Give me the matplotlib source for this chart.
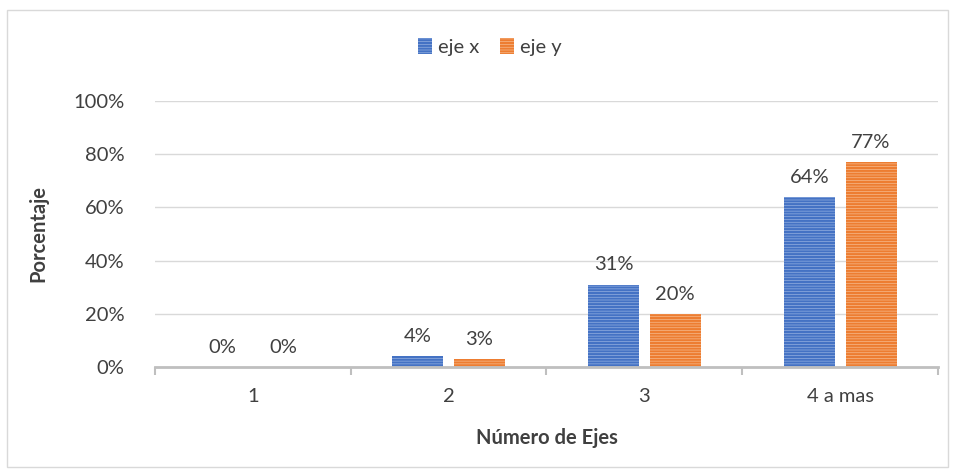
import matplotlib.pyplot as plt
import matplotlib.patches as mpatches
import numpy as np

# data
categories = ['1', '2', '3', '4 a mas']
eje_x = [0, 4, 31, 64]
eje_y = [0, 3, 20, 77]
series_names = ['eje x', 'eje y']

plt.rcParams['font.family'] = ['Lato', 'DejaVu Sans']
plt.rcParams['hatch.linewidth'] = 1.6

fig = plt.figure(figsize=(9.55, 4.72), dpi=100)
ax = fig.add_axes([0.1623, 0.2225, 0.8199, 0.5635])

# outer chart border
fig.patches.append(mpatches.Rectangle((7 / 955, 1 - 467 / 472), 941 / 955, 457 / 472,
                                      transform=fig.transFigure, fill=False,
                                      edgecolor='#d9d9d9', linewidth=1))

x = np.arange(len(categories))
w = 0.26
off = 0.158
text_col = '#404040'
fs = 14.5

b1 = ax.bar(x - off, np.array(eje_x) / 100, w, facecolor='#a8bfe8', edgecolor='#4472C4',
            hatch='------', linewidth=0, label=series_names[0])
b2 = ax.bar(x + off, np.array(eje_y) / 100, w, facecolor='#f8c9a3', edgecolor='#ED7D31',
            hatch='------', linewidth=0, label=series_names[1])

for bars, vals in ((b1, eje_x), (b2, eje_y)):
    for r, v in zip(bars, vals):
        ax.annotate(f'{v}%', (r.get_x() + r.get_width() / 2, r.get_height()),
                    xytext=(0, 8), textcoords='offset points', ha='center', va='bottom',
                    fontsize=fs, color=text_col)

ax.set_xlim(-0.5, len(categories) - 0.5)
ax.set_ylim(0, 1)
ax.set_yticks(np.arange(0, 1.01, 0.2))
ax.set_yticklabels([f'{int(round(t * 100))}%' for t in np.arange(0, 1.01, 0.2)])
ax.set_xticks(x)
ax.set_xticklabels(categories)
ax.set_xticks(np.arange(-0.5, len(categories), 1), minor=True)
ax.tick_params(axis='x', which='major', length=0, pad=15, labelsize=fs, labelcolor=text_col)
ax.tick_params(axis='x', which='minor', length=6, width=1.5, color='#bfbfbf', direction='out')
ax.tick_params(axis='y', length=0, pad=22, labelsize=fs, labelcolor=text_col)

ax.grid(axis='y', color='#d9d9d9', linewidth=1)
ax.set_axisbelow(True)
for s in ('top', 'right', 'left'):
    ax.spines[s].set_visible(False)
ax.spines['bottom'].set_color('#bfbfbf')
ax.spines['bottom'].set_linewidth(2)

ax.set_ylabel('Porcentaje', fontsize=fs, fontweight='bold', color=text_col, labelpad=18)
ax.set_xlabel('Número de Ejes', fontsize=fs, fontweight='bold', color=text_col, labelpad=17)

fig.legend(loc='center', bbox_to_anchor=(490 / 955, 1 - 47 / 472), ncol=2, frameon=False,
           fontsize=fs, labelcolor=text_col, handlelength=0.7, handleheight=0.8,
           handletextpad=0.3, columnspacing=1.0)

fig.savefig('out.png', dpi=100)
